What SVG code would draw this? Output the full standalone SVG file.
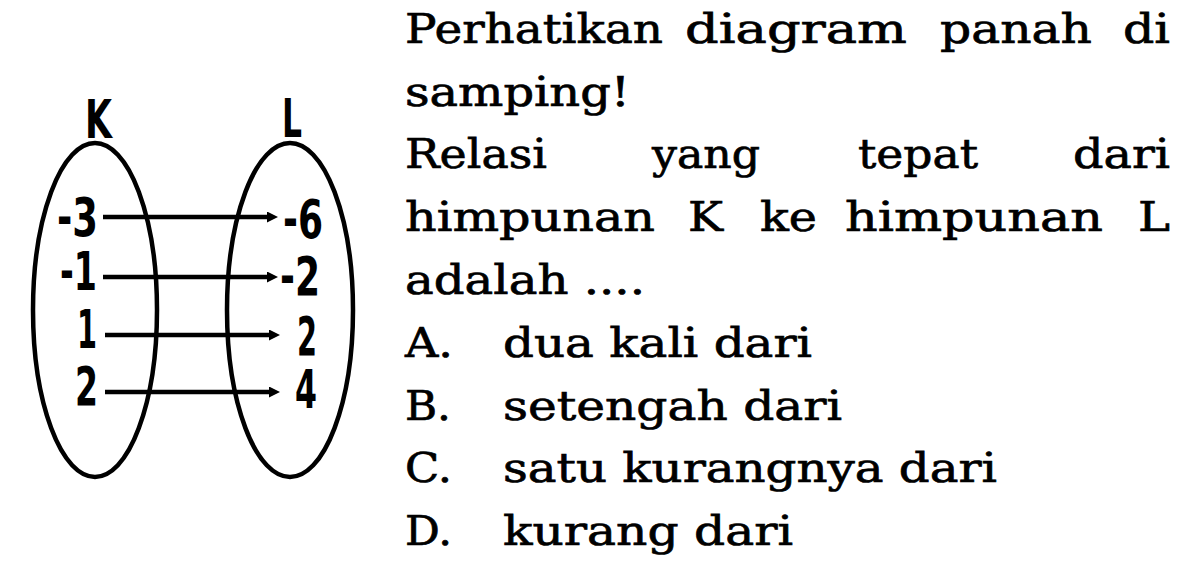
<svg xmlns="http://www.w3.org/2000/svg" width="1187" height="564" viewBox="0 0 1187 564">
<style>
.set{fill:none;stroke:#000;stroke-width:4.5}
.lbl{font-family:"DejaVu Sans","Liberation Sans",sans-serif;font-weight:bold;font-size:54px;fill:#000}
.txt{font-family:"DejaVu Serif","Liberation Serif",serif;font-size:41px;fill:#000;stroke:#000;stroke-width:0.7}
.arr{stroke:#000;stroke-width:4.5;fill:none;marker-end:url(#ah)}
</style>
<defs>
<marker id="ah" markerUnits="userSpaceOnUse" markerWidth="11" markerHeight="11" refX="2" refY="5.5" orient="auto">
<path d="M0,0 L11,5.5 L0,11 z" fill="#000"/>
</marker>
</defs>
<rect width="1187" height="564" fill="#fff"/>
<g id="setK">
<ellipse class="set" cx="95" cy="310" rx="62" ry="167"/>
<text class="lbl" x="85" y="138" textLength="27" lengthAdjust="spacingAndGlyphs">K</text>
<text class="lbl" x="57" y="236" textLength="41" lengthAdjust="spacingAndGlyphs">-3</text>
<text class="lbl" x="60" y="290" textLength="37" lengthAdjust="spacingAndGlyphs">-1</text>
<text class="lbl" x="77" y="348" textLength="20" lengthAdjust="spacingAndGlyphs">1</text>
<text class="lbl" x="75" y="405" textLength="23" lengthAdjust="spacingAndGlyphs">2</text>
</g>
<g id="setL">
<ellipse class="set" cx="290" cy="310" rx="63" ry="167"/>
<text class="lbl" x="282" y="137" textLength="20" lengthAdjust="spacingAndGlyphs">L</text>
<text class="lbl" x="283" y="238" textLength="40" lengthAdjust="spacingAndGlyphs">-6</text>
<text class="lbl" x="280" y="295" textLength="40" lengthAdjust="spacingAndGlyphs">-2</text>
<text class="lbl" x="297" y="355" textLength="20" lengthAdjust="spacingAndGlyphs">2</text>
<text class="lbl" x="295" y="408" textLength="22" lengthAdjust="spacingAndGlyphs">4</text>
</g>
<g id="connectors">
<line class="arr" x1="103" y1="217" x2="269" y2="217"/>
<line class="arr" x1="103" y1="277" x2="269" y2="277"/>
<line class="arr" x1="105" y1="335" x2="271" y2="335"/>
<line class="arr" x1="105" y1="392" x2="271" y2="392"/>
</g>
<g id="question" class="txt">
<text x="405" y="43" textLength="258" lengthAdjust="spacingAndGlyphs">Perhatikan</text>
<text x="685" y="43" textLength="222" lengthAdjust="spacingAndGlyphs">diagram</text>
<text x="940" y="43" textLength="152" lengthAdjust="spacingAndGlyphs">panah</text>
<text x="1123" y="43" textLength="47" lengthAdjust="spacingAndGlyphs">di</text>
<text x="405" y="106" textLength="225" lengthAdjust="spacingAndGlyphs">samping!</text>
<text x="405" y="168" textLength="142" lengthAdjust="spacingAndGlyphs">Relasi</text>
<text x="652" y="168" textLength="108" lengthAdjust="spacingAndGlyphs">yang</text>
<text x="858" y="168" textLength="120" lengthAdjust="spacingAndGlyphs">tepat</text>
<text x="1073" y="168" textLength="97" lengthAdjust="spacingAndGlyphs">dari</text>
<text x="405" y="231" textLength="250" lengthAdjust="spacingAndGlyphs">himpunan</text>
<text x="688" y="231" textLength="35" lengthAdjust="spacingAndGlyphs">K</text>
<text x="760" y="231" textLength="57" lengthAdjust="spacingAndGlyphs">ke</text>
<text x="845" y="231" textLength="258" lengthAdjust="spacingAndGlyphs">himpunan</text>
<text x="1138" y="231" textLength="32" lengthAdjust="spacingAndGlyphs">L</text>
<text x="405" y="294" textLength="240" lengthAdjust="spacingAndGlyphs">adalah ....</text>
</g>
<g id="options" class="txt">
<text x="405" y="357" textLength="48" lengthAdjust="spacingAndGlyphs">A.</text>
<text x="503" y="357" textLength="309" lengthAdjust="spacingAndGlyphs">dua kali dari</text>
<text x="405" y="420" textLength="46" lengthAdjust="spacingAndGlyphs">B.</text>
<text x="503" y="420" textLength="339" lengthAdjust="spacingAndGlyphs">setengah dari</text>
<text x="405" y="482" textLength="47" lengthAdjust="spacingAndGlyphs">C.</text>
<text x="503" y="482" textLength="494" lengthAdjust="spacingAndGlyphs">satu kurangnya dari</text>
<text x="405" y="545" textLength="47" lengthAdjust="spacingAndGlyphs">D.</text>
<text x="503" y="545" textLength="290" lengthAdjust="spacingAndGlyphs">kurang dari</text>
</g>
</svg>
